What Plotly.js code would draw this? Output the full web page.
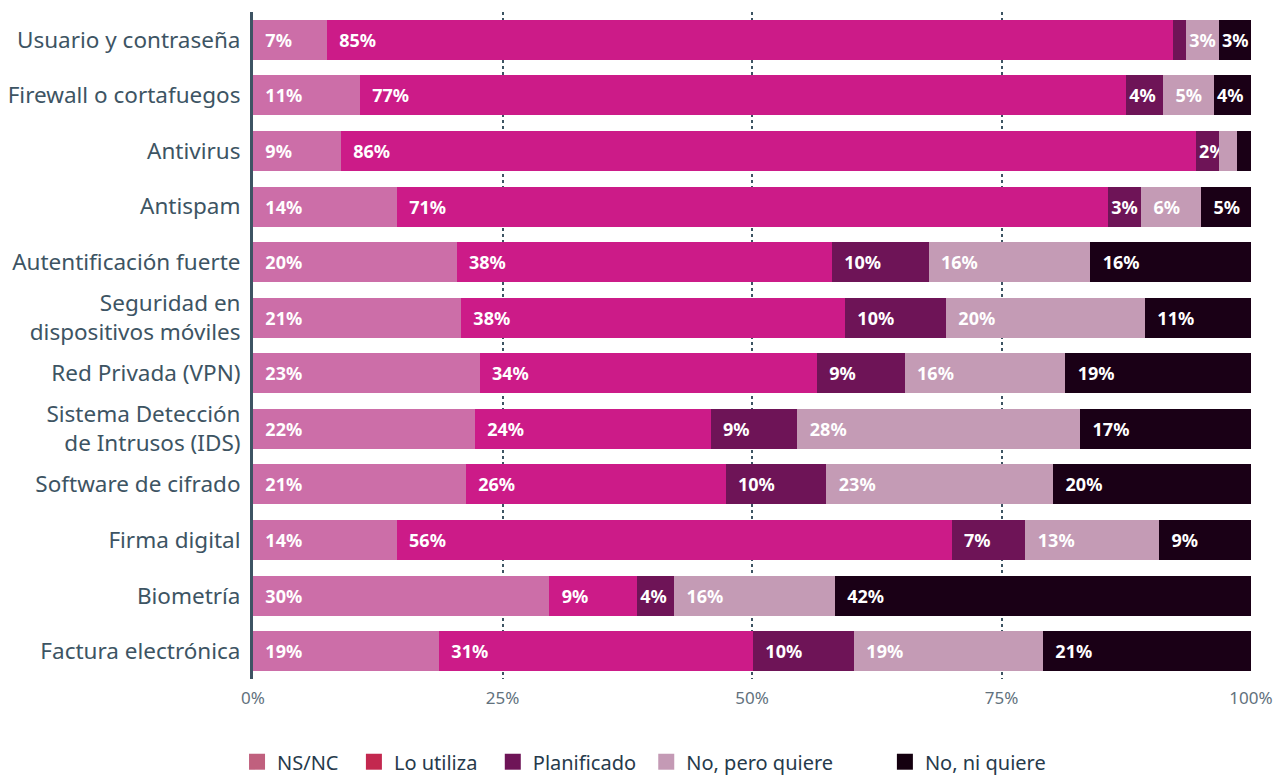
<!DOCTYPE html>
<html>
<head>
<meta charset="utf-8">
<script src="https://cdn.plot.ly/plotly-3.0.1.min.js"></script>
<style>html,body{margin:0;padding:0;background:#fff;}#chart{width:1286px;height:776px;}</style>
</head>
<body>
<div id="chart"></div>
<script>
var categories = [
  "Usuario y contraseña",
  "Firewall o cortafuegos",
  "Antivirus",
  "Antispam",
  "Autentificación fuerte",
  "Seguridad en<br>dispositivos móviles",
  "Red Privada (VPN)",
  "Sistema Detección<br>de Intrusos (IDS)",
  "Software de cifrado",
  "Firma digital",
  "Biometría",
  "Factura electrónica"
];
var seriesNames = ["NS/NC", "Lo utiliza", "Planificado", "No, pero quiere", "No, ni quiere"];
var nsnc        = [7.4, 10.7, 8.8, 14.4, 20.4, 20.8, 22.7, 22.2, 21.3, 14.4, 29.7, 18.6];
var loUtiliza   = [84.8, 76.8, 85.7, 71.2, 37.6, 38.4, 33.8, 23.6, 26.0, 55.6, 8.8, 31.4];
var planificado = [1.3, 3.7, 2.3, 3.3, 9.7, 10.1, 8.8, 8.7, 10.1, 7.4, 3.7, 10.1];
var noPero      = [3.3, 5.1, 1.8, 6.0, 16.2, 19.9, 16.1, 28.3, 22.7, 13.4, 16.1, 18.9];
var noNi        = [3.2, 3.7, 1.4, 5.0, 16.1, 10.6, 18.6, 17.1, 19.8, 9.2, 41.7, 20.8];
var xTickVals   = [0, 25, 50, 75, 100];
var xTickText   = ["0%", "25%", "50%", "75%", "100%"];

var barColors    = ["#cc6ea8", "#cc1b88", "#6e1457", "#c49bb5", "#1a0016"];
var legendColors = ["#c0607e", "#c3284f", "#6e1457", "#c49ab5", "#14000f"];
var legendPad    = [2, 2, 1, 9, 0];
var allSeries = [nsnc, loUtiliza, planificado, noPero, noNi];

function label(v) {
  if (v < 2) return "";
  var pad = v >= 5 ? "\u00a0\u00a0" : (v >= 4 ? "\u00a0" : "");
  return pad + Math.round(v) + "%";
}

var traces = [];
allSeries.forEach(function (vals, i) {
  traces.push({
    type: "bar",
    orientation: "h",
    name: seriesNames[i],
    y: categories,
    x: vals,
    text: vals.map(label),
    texttemplate: "%{text}",
    textposition: "inside",
    insidetextanchor: "start",
    textangle: 0,
    constraintext: "none",
    textfont: {family: "Noto Sans", size: 18, color: "#ffffff", weight: "bold"},
    marker: {color: barColors[i], line: {width: 0}},
    showlegend: false,
    hoverinfo: "skip"
  });
});
seriesNames.forEach(function (n, i) {
  traces.push({
    type: "scatter",
    mode: "markers",
    name: n + "\u00a0".repeat(legendPad[i]),
    x: [null],
    y: [null],
    marker: {symbol: "square", size: 17, color: legendColors[i]},
    showlegend: true,
    hoverinfo: "skip"
  });
});

var layout = {
  width: 1286,
  height: 776,
  margin: {l: 253, r: 35, t: 12, b: 97, autoexpand: false},
  paper_bgcolor: "#ffffff",
  plot_bgcolor: "#ffffff",
  font: {family: "Noto Sans", color: "#3d5463"},
  barmode: "stack",
  barnorm: "percent",
  bargap: 0.28,
  uniformtext: {minsize: 18, mode: "show"},
  showlegend: true,
  legend: {
    orientation: "h",
    x: -0.016,
    xanchor: "left",
    y: -0.124,
    yanchor: "middle",
    font: {family: "Noto Sans", size: 20, color: "#263a4b"},
    itemsizing: "trace",
    traceorder: "normal"
  },
  xaxis: {
    range: [0, 100],
    tickvals: xTickVals,
    ticktext: xTickText,
    showgrid: true,
    gridcolor: "#3d5463",
    griddash: "dot",
    gridwidth: 2,
    zeroline: false,
    showline: false,
    ticks: "",
    ticklabelstandoff: 7,
    tickfont: {family: "Noto Sans", size: 17, color: "#62717d"},
    fixedrange: true
  },
  yaxis: {
    type: "category",
    autorange: "reversed",
    showline: true,
    linecolor: "#3d5463",
    linewidth: 3,
    showgrid: false,
    zeroline: false,
    ticks: "",
    ticklabelstandoff: 5,
    tickfont: {family: "Noto Sans", size: 22.5, color: "#3d5463"},
    fixedrange: true
  }
};

Plotly.newPlot("chart", traces, layout, {displayModeBar: false, staticPlot: true});
</script>
</body>
</html>
